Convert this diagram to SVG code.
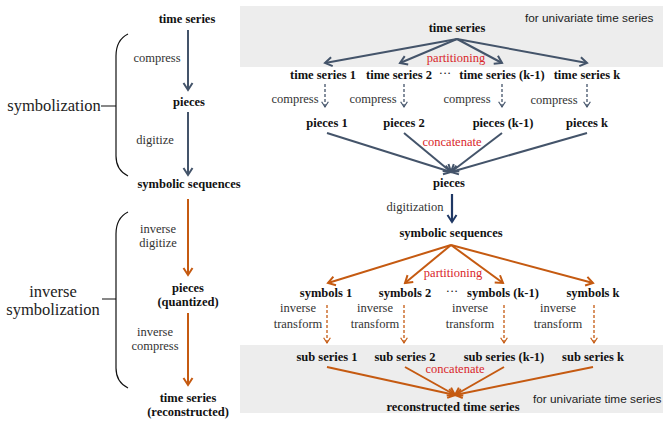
<svg xmlns="http://www.w3.org/2000/svg" width="663" height="421" viewBox="0 0 663 421" font-family="'Liberation Serif', 'DejaVu Serif', serif">
<style>
text{font-family:"Liberation Serif","DejaVu Serif",serif;font-size:12.5px;fill:#111;text-anchor:middle}
.b{font-weight:bold}
.red{fill:#D9262B}
.big{font-size:16.5px;fill:#222}
.sans{font-family:"Liberation Sans",Arial,sans-serif;font-size:11.8px;text-anchor:start;fill:#222}
.lab{fill:#333}
.bl{stroke:#44546A;stroke-width:2;fill:none}
.or{stroke:#C55A11;stroke-width:2;fill:none}
.nv{stroke:#1F3864;stroke-width:2.2;fill:none}
.dash{stroke-width:1.3;stroke-dasharray:3,2}
.br{stroke:#111;stroke-width:1.2;fill:none}
</style>
<defs>
<marker id="mb" viewBox="0 0 12 12" refX="10" refY="6" markerWidth="12" markerHeight="12" markerUnits="userSpaceOnUse" orient="auto"><path d="M3,1.5 L10,6 L3,10.5" fill="none" stroke="#44546A" stroke-width="2"/></marker>
<marker id="mo" viewBox="0 0 12 12" refX="10" refY="6" markerWidth="12" markerHeight="12" markerUnits="userSpaceOnUse" orient="auto"><path d="M3,1.5 L10,6 L3,10.5" fill="none" stroke="#C55A11" stroke-width="2"/></marker>
<marker id="mn" viewBox="0 0 12 12" refX="10" refY="6" markerWidth="12" markerHeight="12" markerUnits="userSpaceOnUse" orient="auto"><path d="M3,1.5 L10,6 L3,10.5" fill="none" stroke="#1F3864" stroke-width="2"/></marker>
<marker id="mbs" viewBox="0 0 12 12" refX="10" refY="6" markerWidth="9" markerHeight="9" markerUnits="userSpaceOnUse" orient="auto"><path d="M3,1.5 L10,6 L3,10.5" fill="none" stroke="#44546A" stroke-width="1.6"/></marker>
<marker id="mos" viewBox="0 0 12 12" refX="10" refY="6" markerWidth="9" markerHeight="9" markerUnits="userSpaceOnUse" orient="auto"><path d="M3,1.5 L10,6 L3,10.5" fill="none" stroke="#C55A11" stroke-width="1.6"/></marker>
</defs>

<g id="backgrounds">
<rect x="240" y="6" width="423" height="61" fill="#EDEDED"/>
<rect x="240" y="345" width="423" height="68" fill="#EDEDED"/>
<text class="sans" x="525" y="22">for univariate time series</text>
<text class="sans" x="533" y="403">for univariate time series</text>
</g>

<g id="connectors">
<line class="bl" x1="188" y1="30" x2="188" y2="90" marker-end="url(#mb)"/>
<line class="bl" x1="188" y1="112" x2="188" y2="175" marker-end="url(#mb)"/>
<line class="or" x1="188" y1="199" x2="188" y2="275" marker-end="url(#mo)"/>
<line class="or" x1="188" y1="313" x2="188" y2="385" marker-end="url(#mo)"/>
<path class="br" d="M128,34 Q116,40 116,56 L116,156 Q116,170 128,176 M101,106 L116,106"/>
<path class="br" d="M128,212 Q116,218 116,234 L116,368 Q116,382 128,388 M102,299 L116,299"/>
<line class="bl" x1="457" y1="39" x2="325" y2="63" marker-end="url(#mb)"/>
<line class="bl" x1="457" y1="39" x2="400" y2="63" marker-end="url(#mb)"/>
<line class="bl" x1="457" y1="39" x2="502" y2="63" marker-end="url(#mb)"/>
<line class="bl" x1="457" y1="39" x2="587" y2="63" marker-end="url(#mb)"/>
<line class="bl dash" x1="325" y1="84" x2="325" y2="107" marker-end="url(#mbs)"/>
<line class="bl dash" x1="404" y1="84" x2="404" y2="107" marker-end="url(#mbs)"/>
<line class="bl dash" x1="502" y1="84" x2="502" y2="107" marker-end="url(#mbs)"/>
<line class="bl dash" x1="587" y1="84" x2="587" y2="107" marker-end="url(#mbs)"/>
<line class="bl" x1="327" y1="133" x2="451" y2="172" marker-end="url(#mb)"/>
<line class="bl" x1="404" y1="133" x2="451" y2="172" marker-end="url(#mb)"/>
<line class="bl" x1="502" y1="133" x2="451" y2="172" marker-end="url(#mb)"/>
<line class="bl" x1="587" y1="133" x2="451" y2="172" marker-end="url(#mb)"/>
<line class="nv" x1="452" y1="194" x2="452" y2="222" marker-end="url(#mn)"/>
<line class="or" x1="451" y1="245" x2="328" y2="283" marker-end="url(#mo)"/>
<line class="or" x1="451" y1="245" x2="405" y2="283" marker-end="url(#mo)"/>
<line class="or" x1="451" y1="245" x2="503" y2="283" marker-end="url(#mo)"/>
<line class="or" x1="451" y1="245" x2="593" y2="283" marker-end="url(#mo)"/>
<line class="or dash" x1="327" y1="305" x2="327" y2="343" marker-end="url(#mos)"/>
<line class="or dash" x1="404" y1="305" x2="404" y2="343" marker-end="url(#mos)"/>
<line class="or dash" x1="504" y1="305" x2="504" y2="343" marker-end="url(#mos)"/>
<line class="or dash" x1="594" y1="305" x2="594" y2="343" marker-end="url(#mos)"/>
<line class="or" x1="327" y1="367" x2="455" y2="395" marker-end="url(#mo)"/>
<line class="or" x1="405" y1="367" x2="455" y2="395" marker-end="url(#mo)"/>
<line class="or" x1="504" y1="367" x2="455" y2="395" marker-end="url(#mo)"/>
<line class="or" x1="593" y1="367" x2="455" y2="395" marker-end="url(#mo)"/>
</g>

<g id="left-labels">
<text class="big" x="54" y="111">symbolization</text>
<text class="big" x="53" y="297">inverse</text>
<text class="big" x="53" y="315">symbolization</text>
<text class="lab" x="157" y="62">compress</text>
<text class="lab" x="155" y="144">digitize</text>
<text class="lab" x="158" y="233">inverse</text>
<text class="lab" x="158" y="247">digitize</text>
<text class="lab" x="155" y="336">inverse</text>
<text class="lab" x="155" y="350">compress</text>
</g>

<g id="l-timeseries"><text class="b" x="187" y="23">time series</text></g>
<g id="l-pieces"><text class="b" x="189" y="106">pieces</text></g>
<g id="l-symbolic"><text class="b" x="189" y="188">symbolic sequences</text></g>
<g id="l-pieces-q"><text class="b" x="188" y="292">pieces</text><text class="b" x="188" y="306">(quantized)</text></g>
<g id="l-ts-rec"><text class="b" x="188" y="402">time series</text><text class="b" x="188" y="416">(reconstructed)</text></g>

<g id="r-timeseries"><text class="b" x="457" y="32">time series</text></g>
<text class="red" x="456" y="62">partitioning</text>
<g id="r-ts1"><text class="b" x="323" y="79">time series 1</text></g>
<g id="r-ts2"><text class="b" x="399" y="79">time series 2</text></g>
<text x="445" y="77">···</text>
<g id="r-tsk1"><text class="b" x="502" y="79">time series (k-1)</text></g>
<g id="r-tsk"><text class="b" x="587" y="79">time series k</text></g>
<text class="lab" x="295" y="103">compress</text>
<text class="lab" x="373" y="103">compress</text>
<text class="lab" x="467" y="103">compress</text>
<text class="lab" x="554" y="104">compress</text>
<g id="r-p1"><text class="b" x="327" y="127">pieces 1</text></g>
<g id="r-p2"><text class="b" x="404" y="127">pieces 2</text></g>
<g id="r-pk1"><text class="b" x="503" y="127">pieces (k-1)</text></g>
<g id="r-pk"><text class="b" x="587" y="127">pieces k</text></g>
<text class="red" x="452" y="146">concatenate</text>
<g id="r-pieces"><text class="b" x="449" y="187">pieces</text></g>
<text class="lab" x="415" y="211">digitization</text>
<g id="r-symbolic"><text class="b" x="451" y="237">symbolic sequences</text></g>
<text class="red" x="453" y="277">partitioning</text>
<g id="r-s1"><text class="b" x="326" y="297">symbols 1</text></g>
<g id="r-s2"><text class="b" x="405" y="297">symbols 2</text></g>
<text x="452" y="295">···</text>
<g id="r-sk1"><text class="b" x="503" y="297">symbols (k-1)</text></g>
<g id="r-sk"><text class="b" x="593" y="297">symbols k</text></g>
<text class="lab" x="298" y="312">inverse</text><text class="lab" x="298" y="328">transform</text>
<text class="lab" x="375" y="312">inverse</text><text class="lab" x="375" y="328">transform</text>
<text class="lab" x="470" y="312">inverse</text><text class="lab" x="470" y="328">transform</text>
<text class="lab" x="558" y="312">inverse</text><text class="lab" x="558" y="328">transform</text>
<g id="r-sub1"><text class="b" x="327" y="361">sub series 1</text></g>
<g id="r-sub2"><text class="b" x="405" y="361">sub series 2</text></g>
<g id="r-subk1"><text class="b" x="504" y="361">sub series (k-1)</text></g>
<g id="r-subk"><text class="b" x="593" y="361">sub series k</text></g>
<text class="red" x="455" y="373">concatenate</text>
<g id="r-rec"><text class="b" x="453" y="411">reconstructed time series</text></g>
</svg>
